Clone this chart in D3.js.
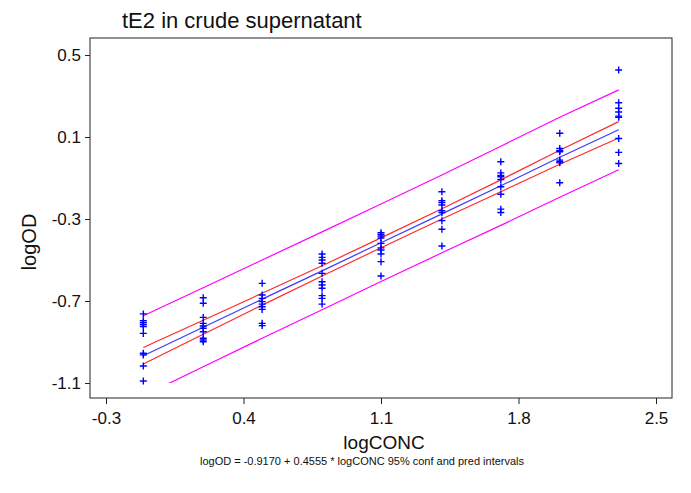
<!DOCTYPE html>
<html>
<head>
<meta charset="utf-8">
<script src="https://cdn.jsdelivr.net/npm/d3@7"></script>
<style>
  body { margin: 0; background: #fff; }
  svg { font-family: "Liberation Sans", Arial, sans-serif; }
</style>
</head>
<body>
<div id="chart"></div>
<script>
// concentrations (log scale) of the 9 dilution steps
const logConc = [-0.11, 0.195, 0.495, 0.80, 1.10, 1.41, 1.71, 2.01, 2.31];

// measured logOD replicates per concentration
const logOdValues = [
    [-0.763, -0.796, -0.806, -0.816, -0.825, -0.858, -0.955, -0.963, -1.017, -1.090],
    [-0.684, -0.711, -0.780, -0.809, -0.822, -0.833, -0.850, -0.882, -0.890, -0.899],
    [-0.614, -0.671, -0.687, -0.703, -0.715, -0.728, -0.741, -0.809, -0.820],
    [-0.471, -0.487, -0.500, -0.516, -0.565, -0.606, -0.622, -0.638, -0.674, -0.687, -0.715],
    [-0.367, -0.375, -0.383, -0.393, -0.419, -0.441, -0.451, -0.471, -0.508, -0.578],
    [-0.167, -0.211, -0.220, -0.232, -0.260, -0.269, -0.308, -0.350, -0.432],
    [-0.021, -0.075, -0.088, -0.094, -0.107, -0.143, -0.179, -0.252, -0.268],
    [0.118, 0.044, 0.033, 0.028, -0.013, -0.021, -0.026, -0.123],
    [0.427, 0.267, 0.240, 0.222, 0.202, 0.196, 0.093, 0.025, -0.029]
];

// fitted line and bands at each concentration
const fitLine = [-0.967, -0.828, -0.691, -0.553, -0.416, -0.275, -0.138, 0.001, 0.135];
const confHigh = [-0.927, -0.794, -0.662, -0.528, -0.392, -0.250, -0.109, 0.035, 0.175];
const confLow = [-1.007, -0.862, -0.720, -0.578, -0.440, -0.300, -0.167, -0.033, 0.095];
const predHigh = [-0.772, -0.635, -0.500, -0.363, -0.227, -0.085, 0.055, 0.196, 0.330];
const predLow = [-1.162, -1.021, -0.882, -0.743, -0.605, -0.465, -0.331, -0.194, -0.060];

const xTicks = [-0.3, 0.4, 1.1, 1.8, 2.5];
const yTicks = [-1.1, -0.7, -0.3, 0.1, 0.5];

const titleText = "tE2 in crude supernatant";
const xLabel = "logCONC";
const yLabel = "logOD";
const caption = "logOD = -0.9170 + 0.4555 * logCONC 95% conf and pred intervals";

const width = 691, height = 493;
const frame = { left: 90, right: 672, top: 38, bottom: 398 };
const pad = 16;

const svg = d3.select("#chart")
    .append("svg")
    .attr("width", width)
    .attr("height", height);

const x = d3.scaleLinear()
    .domain([xTicks[0], xTicks[xTicks.length - 1]])
    .range([frame.left + pad, frame.right - pad]);

const y = d3.scaleLinear()
    .domain([yTicks[0], yTicks[yTicks.length - 1]])
    .range([frame.bottom - 15, frame.top + 17]);

// lines are cut at the lowest axis value
svg.append("clipPath")
    .attr("id", "clip")
    .append("rect")
    .attr("x", frame.left)
    .attr("y", frame.top)
    .attr("width", frame.right - frame.left)
    .attr("height", y(yTicks[0]) - frame.top);

const plot = svg.append("g").attr("clip-path", "url(#clip)");

const line = d3.line()
    .x((d, i) => x(logConc[i]))
    .y(d => y(d));

const bands = [
    { values: predHigh, color: "#ff00ff" },
    { values: predLow, color: "#ff00ff" },
    { values: confHigh, color: "#ff2a2a" },
    { values: confLow, color: "#ff2a2a" },
    { values: fitLine, color: "#3a3aff" }
];

plot.selectAll(".band")
    .data(bands)
    .enter()
    .append("path")
    .attr("class", "band")
    .attr("d", d => line(d.values))
    .attr("fill", "none")
    .attr("stroke", d => d.color)
    .attr("stroke-width", 1.2);

// points as "+" markers
const points = logConc.flatMap((c, i) => logOdValues[i].map(v => ({ c: c, v: v })));
const s = 3.5;

svg.selectAll(".pt")
    .data(points)
    .enter()
    .append("path")
    .attr("class", "pt")
    .attr("d", d => {
        const px = x(d.c), py = y(d.v);
        return `M${px - s},${py}H${px + s}M${px},${py - s}V${py + s}`;
    })
    .attr("stroke", "#0000ff")
    .attr("stroke-width", 1.4)
    .attr("fill", "none");

// frame
svg.append("rect")
    .attr("x", frame.left)
    .attr("y", frame.top)
    .attr("width", frame.right - frame.left)
    .attr("height", frame.bottom - frame.top)
    .attr("fill", "none")
    .attr("stroke", "#222")
    .attr("stroke-width", 1);

const yAxis = svg.append("g")
    .attr("transform", `translate(${frame.left},0)`)
    .call(d3.axisLeft(y).tickValues(yTicks).tickFormat(d => d.toFixed(1)).tickSize(5).tickPadding(4));

const xAxis = svg.append("g")
    .attr("transform", `translate(0,${frame.bottom})`)
    .call(d3.axisBottom(x).tickValues(xTicks).tickFormat(d => d.toFixed(1)).tickSize(6).tickPadding(8));

[yAxis, xAxis].forEach(a => {
    a.select(".domain").remove();
    a.selectAll("line").attr("stroke", "#222");
    a.selectAll("text")
        .style("font-size", "17px")
        .style("font-family", "Liberation Sans, Arial, sans-serif")
        .attr("fill", "#111");
});

svg.append("text")
    .attr("x", 122)
    .attr("y", 28)
    .style("font-size", "22px")
    .attr("fill", "#111")
    .text(titleText);

svg.append("text")
    .attr("x", 384)
    .attr("y", 449)
    .attr("text-anchor", "middle")
    .style("font-size", "19px")
    .attr("fill", "#111")
    .text(xLabel);

svg.append("text")
    .attr("transform", "translate(36,242) rotate(-90)")
    .attr("text-anchor", "middle")
    .style("font-size", "20px")
    .attr("fill", "#111")
    .text(yLabel);

svg.append("text")
    .attr("x", 362)
    .attr("y", 465)
    .attr("text-anchor", "middle")
    .style("font-size", "11px")
    .attr("fill", "#111")
    .text(caption);
</script>
</body>
</html>
